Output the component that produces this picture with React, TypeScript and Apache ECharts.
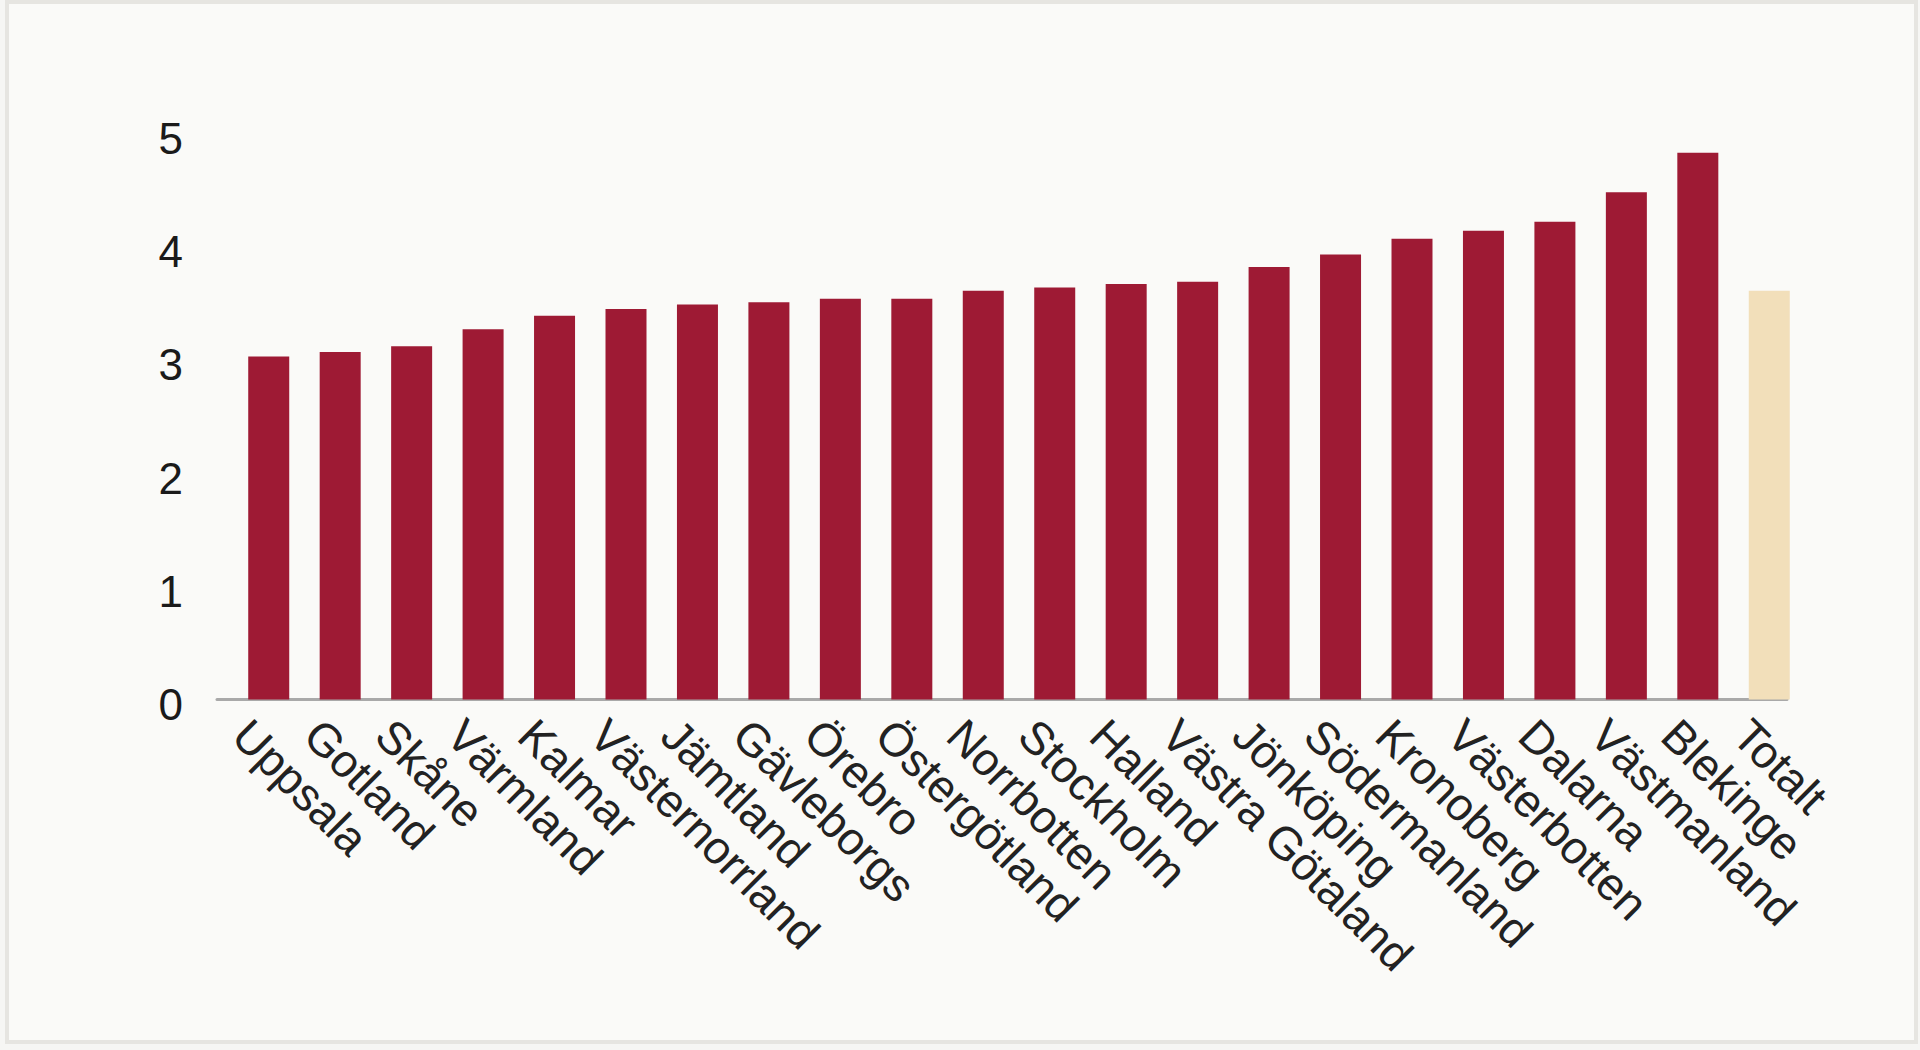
import React, { useEffect, useRef } from "react";
import * as echarts from "echarts";

const categories: string[] = [
  "Uppsala", "Gotland", "Skåne", "Värmland", "Kalmar", "Västernorrland",
  "Jämtland", "Gävleborgs", "Örebro", "Östergötland", "Norrbotten",
  "Stockholm", "Halland", "Västra Götaland", "Jönköping", "Södermanland",
  "Kronoberg", "Västerbotten", "Dalarna", "Västmanland", "Blekinge", "Totalt",
];

const values: number[] = [
  3.03, 3.07, 3.12, 3.27, 3.39, 3.45,
  3.49, 3.51, 3.54, 3.54, 3.61,
  3.64, 3.67, 3.69, 3.82, 3.93,
  4.07, 4.14, 4.22, 4.48, 4.83, 3.61,
];

const yTicks = { min: 0, max: 5, interval: 1 };
const totalCategory = "Totalt";

const BAR_COLOR = "#9e1a34";
const TOTAL_COLOR = "#f2dfba";
const FONT = "'Liberation Sans', Arial, Helvetica, sans-serif";

export default function App() {
  const ref = useRef<HTMLDivElement>(null);

  useEffect(() => {
    if (!ref.current) return;
    const chart = echarts.init(ref.current, null, { renderer: "svg" });
    const data = values.map((v, i) => ({
      value: v,
      itemStyle: { color: categories[i] === totalCategory ? TOTAL_COLOR : BAR_COLOR },
    }));
    chart.setOption({
      animation: false,
      backgroundColor: "transparent",
      textStyle: { fontFamily: FONT },
      grid: [
        { left: 233, right: 115, top: 133.5, bottom: 350.5, outerBoundsMode: "none", containLabel: false },
        { left: 217, right: 133, top: 133.5, bottom: 350.5, outerBoundsMode: "none", containLabel: false },
      ],
      xAxis: [
        {
          type: "category",
          gridIndex: 0,
          data: categories,
          axisLine: { show: false },
          axisTick: { show: false },
          splitLine: { show: false },
          axisLabel: {
            interval: 0,
            rotate: -45,
            margin: 0,
            verticalAlign: "top",
            lineHeight: 79,
            color: "#222222",
            fontSize: 46,
            fontFamily: FONT,
          },
        },
        {
          type: "value",
          gridIndex: 1,
          min: 0,
          max: 1,
          axisLine: { show: true, onZero: false, lineStyle: { color: "#a9a9a9", width: 3 } },
          axisTick: { show: false },
          axisLabel: { show: false },
          splitLine: { show: false },
        },
      ],
      yAxis: [
        {
          type: "value",
          gridIndex: 0,
          min: yTicks.min,
          max: yTicks.max,
          interval: yTicks.interval,
          axisLine: { show: false },
          axisTick: { show: false },
          splitLine: { show: false },
          axisLabel: {
            margin: 50,
            verticalAlign: "top",
            lineHeight: 10,
            color: "#1a1a1a",
            fontSize: 44,
            fontFamily: FONT,
          },
        },
        {
          type: "value",
          gridIndex: 1,
          min: 0,
          max: 1,
          show: false,
        },
      ],
      series: [
        {
          type: "bar",
          xAxisIndex: 0,
          yAxisIndex: 0,
          barWidth: 41,
          data,
        },
      ],
    });
    return () => chart.dispose();
  }, []);

  return (
    <div style={{ position: "absolute", left: 0, top: 0, width: 1920, height: 1050, background: "#f6f6f4", overflow: "hidden" }}>
      <div
        style={{
          position: "absolute",
          left: 5,
          top: 0,
          width: 1913,
          height: 1044,
          boxSizing: "border-box",
          border: "4px solid #e6e5e1",
          background: "#fafaf8",
        }}
      />
      <div ref={ref} style={{ position: "absolute", left: 0, top: 0, width: 1920, height: 1050 }} />
    </div>
  );
}
